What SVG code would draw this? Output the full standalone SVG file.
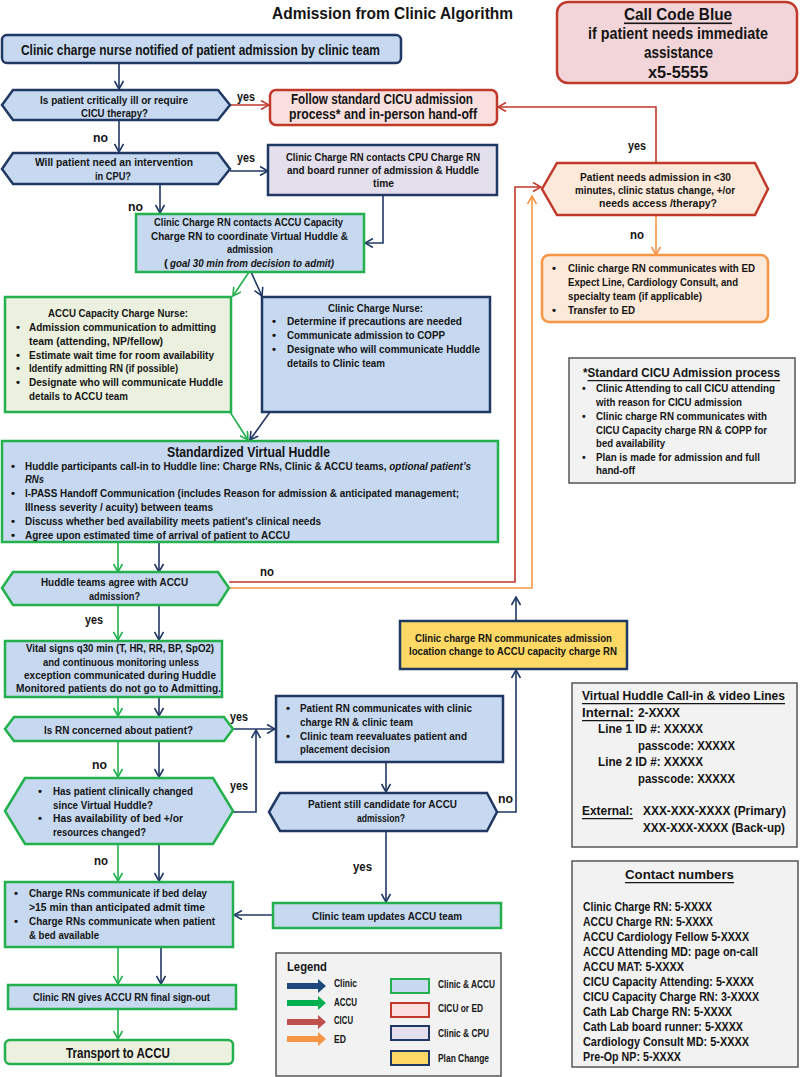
<svg xmlns="http://www.w3.org/2000/svg" width="800" height="1077" viewBox="0 0 800 1077">
<style>
text{font-family:"Liberation Sans",Arial,sans-serif;font-weight:bold;dominant-baseline:central;fill:#141414}
.f10{font-size:10.5px}
.f11{font-size:11.5px}
.f12{font-size:12.5px}
.f14{font-size:14px}
.f15{font-size:15px}
.f16{font-size:16px}
.u{text-decoration:underline}
.i{font-style:italic}
.bl{fill:#c6d9f1;stroke:#203864;stroke-width:2.5}
.gb{fill:#c6d9f1;stroke:#22b14c;stroke-width:2.5}
.gg{fill:#ebf1de;stroke:#22b14c;stroke-width:2.5}
.rd{fill:#f9e0de;stroke:#c0392b;stroke-width:2.5}
.pc{fill:#fde9d9;stroke:#c0392b;stroke-width:2.5}
.or{fill:#fde9d9;stroke:#f79646;stroke-width:2.5}
.lv{fill:#e4dfec;stroke:#203864;stroke-width:2.5}
.yl{fill:#ffd966;stroke:#203864;stroke-width:2.5}
.gr{fill:#f2f2f2;stroke:#555;stroke-width:1.5}
.cb{fill:#f2d5d8;stroke:#c0392b;stroke-width:2.5}
.cn{fill:none;stroke-width:1.6}
.cN{stroke:#203864;marker-end:url(#aN)}
.cG{stroke:#22b14c;marker-end:url(#aG)}
.cR{stroke:#c0392b;marker-end:url(#aR)}
.cO{stroke:#f79646;marker-end:url(#aO)}
</style>
<defs>
<marker id="aN" viewBox="0 0 10 10" refX="9" refY="5" markerWidth="10" markerHeight="10" markerUnits="userSpaceOnUse" orient="auto"><path d="M1,0.5 L9,5 L1,9.5" fill="none" stroke="#203864" stroke-width="1.6"/></marker>
<marker id="aG" viewBox="0 0 10 10" refX="9" refY="5" markerWidth="10" markerHeight="10" markerUnits="userSpaceOnUse" orient="auto"><path d="M1,0.5 L9,5 L1,9.5" fill="none" stroke="#22b14c" stroke-width="1.6"/></marker>
<marker id="aR" viewBox="0 0 10 10" refX="9" refY="5" markerWidth="10" markerHeight="10" markerUnits="userSpaceOnUse" orient="auto"><path d="M1,0.5 L9,5 L1,9.5" fill="none" stroke="#c0392b" stroke-width="1.6"/></marker>
<marker id="aO" viewBox="0 0 10 10" refX="9" refY="5" markerWidth="10" markerHeight="10" markerUnits="userSpaceOnUse" orient="auto"><path d="M1,0.5 L9,5 L1,9.5" fill="none" stroke="#f79646" stroke-width="1.6"/></marker>
</defs>
<rect width="800" height="1077" fill="#ffffff"/>

<text id="title" x="272" y="13" class="f16" style="font-size:17px" textLength="241" lengthAdjust="spacingAndGlyphs">Admission from Clinic Algorithm</text>

<g id="connectors">
<path class="cn cN" d="M119,63 L119,89"/>
<path class="cn cN" d="M119,120 L119,152"/>
<path class="cn cN" d="M230,171 L268,171"/>
<path class="cn cN" d="M160,184 L160,213"/>
<path class="cn cN" d="M383,195 L383,243 L365,243"/>
<path class="cn cN" d="M251,272 L262,296"/>
<path class="cn cN" d="M270,412 L250,440"/>
<path class="cn cN" d="M159,542 L159,572"/>
<path class="cn cN" d="M159,605 L159,640"/>
<path class="cn cN" d="M159,697 L159,716"/>
<path class="cn cN" d="M233,729 L275,729"/>
<path class="cn cN" d="M233,812 L256,812 L256,730"/>
<path class="cn cN" d="M159,741 L159,777"/>
<path class="cn cN" d="M386,762 L386,792"/>
<path class="cn cN" d="M497,812 L516,812 L516,670"/>
<path class="cn cN" d="M516,621 L516,597"/>
<path class="cn cN" d="M386,831 L386,902"/>
<path class="cn cN" d="M273,915 L234,915"/>
<path class="cn cN" d="M159,844 L159,881"/>
<path class="cn cN" d="M161,948 L161,984"/>
<path class="cn cG" d="M249,272 L233,296"/>
<path class="cn cG" d="M230,412 L248,440"/>
<path class="cn cG" d="M118,542 L118,572"/>
<path class="cn cG" d="M118,605 L118,640"/>
<path class="cn cG" d="M118,697 L118,716"/>
<path class="cn cG" d="M118,741 L118,777"/>
<path class="cn cG" d="M118,844 L118,881"/>
<path class="cn cG" d="M118,948 L118,984"/>
<path class="cn cG" d="M118,1009 L118,1039"/>
<path class="cn cR" d="M230,105 L269,105"/>
<path class="cn cR" d="M656,163 L656,107 L498,107"/>
<path class="cn cR" d="M229,582 L515,582 L515,187 L541,187"/>
<path class="cn cO" d="M656,215 L656,255"/>
<path class="cn cO" d="M229,588 L532,588 L532,196"/>
<text x="237" y="97" class="f12" textLength="18" lengthAdjust="spacingAndGlyphs">yes</text>
<text x="93" y="138" class="f12" textLength="15" lengthAdjust="spacingAndGlyphs">no</text>
<text x="237" y="158" class="f12" textLength="18" lengthAdjust="spacingAndGlyphs">yes</text>
<text x="128" y="207" class="f12" textLength="15" lengthAdjust="spacingAndGlyphs">no</text>
<text x="628" y="146" class="f12" textLength="18" lengthAdjust="spacingAndGlyphs">yes</text>
<text x="630" y="235" class="f12" textLength="14" lengthAdjust="spacingAndGlyphs">no</text>
<text x="260" y="572" class="f12" textLength="14" lengthAdjust="spacingAndGlyphs">no</text>
<text x="85" y="620" class="f12" textLength="18" lengthAdjust="spacingAndGlyphs">yes</text>
<text x="230" y="717" class="f12" textLength="18" lengthAdjust="spacingAndGlyphs">yes</text>
<text x="92" y="765" class="f12" textLength="15" lengthAdjust="spacingAndGlyphs">no</text>
<text x="230" y="786" class="f12" textLength="18" lengthAdjust="spacingAndGlyphs">yes</text>
<text x="498" y="799" class="f12" textLength="15" lengthAdjust="spacingAndGlyphs">no</text>
<text x="94" y="861" class="f12" textLength="14" lengthAdjust="spacingAndGlyphs">no</text>
<text x="353" y="867" class="f12" textLength="19" lengthAdjust="spacingAndGlyphs">yes</text>
</g>

<g id="code-blue">
<rect x="557" y="2" width="240" height="81" rx="11" class="cb"/>
<text x="624" y="14" class="f16 u" textLength="108" lengthAdjust="spacingAndGlyphs">Call Code Blue</text>
<text x="588" y="33" class="f16" textLength="180" lengthAdjust="spacingAndGlyphs">if patient needs immediate</text>
<text x="644" y="52" class="f16" textLength="69" lengthAdjust="spacingAndGlyphs">assistance</text>
<text x="648" y="72" class="f16" textLength="60" lengthAdjust="spacingAndGlyphs">x5-5555</text>
</g>

<g id="n-notified">
<rect x="2" y="35" width="399" height="28" rx="5" class="bl"/>
<text x="21" y="50" class="f14" textLength="359" lengthAdjust="spacingAndGlyphs">Clinic charge nurse notified of patient admission by clinic team</text>
</g>

<g id="d-critical">
<polygon points="2,105 13,90 218,90 230,105 218,120 13,120" class="bl"/>
<text x="40" y="100" class="f11" textLength="148" lengthAdjust="spacingAndGlyphs">Is patient critically ill or require</text>
<text x="81" y="113" class="f11" textLength="67" lengthAdjust="spacingAndGlyphs">CICU therapy?</text>
</g>

<g id="n-cicu">
<rect x="270" y="90" width="227" height="35" rx="6" class="rd"/>
<text x="291" y="99" class="f14" textLength="182" lengthAdjust="spacingAndGlyphs">Follow standard CICU admission</text>
<text x="289" y="114" class="f14" textLength="188" lengthAdjust="spacingAndGlyphs">process* and in-person hand-off</text>
</g>

<g id="d-cpu">
<polygon points="2,169 13,153 218,153 230,169 218,184 13,184" class="bl"/>
<text x="35" y="162" class="f11" textLength="158" lengthAdjust="spacingAndGlyphs">Will patient need an intervention</text>
<text x="95" y="176" class="f11" textLength="36" lengthAdjust="spacingAndGlyphs">in CPU?</text>
</g>

<g id="n-cpu">
<rect x="268" y="145" width="229" height="50" class="lv"/>
<text x="286" y="157" class="f11" textLength="194" lengthAdjust="spacingAndGlyphs">Clinic Charge RN contacts CPU Charge RN</text>
<text x="287" y="170" class="f11" textLength="192" lengthAdjust="spacingAndGlyphs">and board runner of admission &amp; Huddle</text>
<text x="373" y="183" class="f11" textLength="21" lengthAdjust="spacingAndGlyphs">time</text>
</g>

<g id="n-contact-accu">
<rect x="136" y="214" width="228" height="58" class="gb"/>
<text x="154" y="222" class="f11" textLength="189" lengthAdjust="spacingAndGlyphs">Clinic Charge RN contacts ACCU Capacity</text>
<text x="151" y="236" class="f11" textLength="197" lengthAdjust="spacingAndGlyphs">Charge RN to coordinate Virtual Huddle &amp;</text>
<text x="227" y="249" class="f11" textLength="46" lengthAdjust="spacingAndGlyphs">admission</text>
<text x="164" y="263" class="f11">(</text>
<text x="170" y="263" class="f11 i" textLength="164" lengthAdjust="spacingAndGlyphs">goal 30 min from decision to admit)</text>
</g>

<g id="n-accu-nurse">
<rect x="5" y="297" width="226" height="115" class="gg"/>
<text x="48" y="313" class="f11" textLength="140" lengthAdjust="spacingAndGlyphs">ACCU Capacity Charge Nurse:</text>
<text x="16" y="327" class="f11">•</text>
<text x="29" y="327" class="f11" textLength="187" lengthAdjust="spacingAndGlyphs">Admission communication to admitting</text>
<text x="29" y="341" class="f11" textLength="134" lengthAdjust="spacingAndGlyphs">team (attending, NP/fellow)</text>
<text x="16" y="355" class="f11">•</text>
<text x="29" y="355" class="f11" textLength="185" lengthAdjust="spacingAndGlyphs">Estimate wait time for room availability</text>
<text x="16" y="368" class="f11">•</text>
<text x="29" y="368" class="f11" textLength="149" lengthAdjust="spacingAndGlyphs">Identify admitting RN (if possible)</text>
<text x="16" y="382" class="f11">•</text>
<text x="29" y="382" class="f11" textLength="194" lengthAdjust="spacingAndGlyphs">Designate who will communicate Huddle</text>
<text x="29" y="396" class="f11" textLength="99" lengthAdjust="spacingAndGlyphs">details to ACCU team</text>
</g>

<g id="n-clinic-nurse">
<rect x="262" y="297" width="228" height="115" class="bl"/>
<text x="328" y="308" class="f11" textLength="95" lengthAdjust="spacingAndGlyphs">Clinic Charge Nurse:</text>
<text x="272" y="321" class="f11">•</text>
<text x="287" y="321" class="f11" textLength="175" lengthAdjust="spacingAndGlyphs">Determine if precautions are needed</text>
<text x="272" y="335" class="f11">•</text>
<text x="287" y="335" class="f11" textLength="158" lengthAdjust="spacingAndGlyphs">Communicate admission to COPP</text>
<text x="272" y="349" class="f11">•</text>
<text x="287" y="349" class="f11" textLength="193" lengthAdjust="spacingAndGlyphs">Designate who will communicate Huddle</text>
<text x="287" y="363" class="f11" textLength="98" lengthAdjust="spacingAndGlyphs">details to Clinic team</text>
</g>

<g id="n-huddle">
<rect x="2" y="441" width="496" height="101" class="gb"/>
<text x="167" y="451" class="f15" textLength="163" lengthAdjust="spacingAndGlyphs">Standardized Virtual Huddle</text>
<text x="11" y="466" class="f11">•</text>
<text x="25" y="466" class="f11" textLength="446" lengthAdjust="spacingAndGlyphs">Huddle participants call-in to Huddle line: Charge RNs, Clinic &amp; ACCU teams, <tspan class="i">optional patient’s</tspan></text>
<text x="25" y="479" class="f11 i" textLength="19" lengthAdjust="spacingAndGlyphs">RNs</text>
<text x="11" y="493" class="f11">•</text>
<text x="25" y="493" class="f11" textLength="434" lengthAdjust="spacingAndGlyphs">I-PASS Handoff Communication (includes Reason for admission &amp; anticipated management;</text>
<text x="25" y="507" class="f11" textLength="188" lengthAdjust="spacingAndGlyphs">Illness severity / acuity) between teams</text>
<text x="11" y="521" class="f11">•</text>
<text x="25" y="521" class="f11" textLength="296" lengthAdjust="spacingAndGlyphs">Discuss whether bed availability meets patient’s clinical needs</text>
<text x="11" y="535" class="f11">•</text>
<text x="25" y="535" class="f11" textLength="265" lengthAdjust="spacingAndGlyphs">Agree upon estimated time of arrival of patient to ACCU</text>
</g>

<g id="d-agree">
<polygon points="2,588 13,572 218,572 229,588 218,605 13,605" class="gb"/>
<text x="41" y="582" class="f11" textLength="147" lengthAdjust="spacingAndGlyphs">Huddle teams agree with ACCU</text>
<text x="89" y="596" class="f11" textLength="51" lengthAdjust="spacingAndGlyphs">admission?</text>
</g>

<g id="n-vitals">
<rect x="5" y="641" width="217" height="56" class="gb"/>
<text x="26" y="648" class="f11" textLength="188" lengthAdjust="spacingAndGlyphs">Vital signs q30 min (T, HR, RR, BP, SpO2)</text>
<text x="43" y="662" class="f11" textLength="156" lengthAdjust="spacingAndGlyphs">and continuous monitoring unless</text>
<text x="24" y="675" class="f11" textLength="192" lengthAdjust="spacingAndGlyphs">exception communicated during Huddle</text>
<text x="16" y="688" class="f11" textLength="205" lengthAdjust="spacingAndGlyphs">Monitored patients do not go to Admitting.</text>
</g>

<g id="d-concerned">
<polygon points="5,729 14,717 224,717 233,729 224,741 14,741" class="gb"/>
<text x="44" y="730" class="f11" textLength="149" lengthAdjust="spacingAndGlyphs">Is RN concerned about patient?</text>
</g>

<g id="d-changed">
<polygon points="5,811 25,778 213,778 233,811 213,844 25,844" class="gb"/>
<text x="38" y="791" class="f11">•</text>
<text x="53" y="791" class="f11" textLength="140" lengthAdjust="spacingAndGlyphs">Has patient clinically changed</text>
<text x="53" y="805" class="f11" textLength="100" lengthAdjust="spacingAndGlyphs">since Virtual Huddle?</text>
<text x="38" y="818" class="f11">•</text>
<text x="53" y="818" class="f11" textLength="130" lengthAdjust="spacingAndGlyphs">Has availability of bed +/or</text>
<text x="53" y="832" class="f11" textLength="93" lengthAdjust="spacingAndGlyphs">resources changed?</text>
</g>

<g id="n-reevaluate">
<rect x="276" y="696" width="227" height="66" class="bl"/>
<text x="286" y="708" class="f11">•</text>
<text x="300" y="708" class="f11" textLength="172" lengthAdjust="spacingAndGlyphs">Patient RN communicates with clinic</text>
<text x="300" y="722" class="f11" textLength="113" lengthAdjust="spacingAndGlyphs">charge RN &amp; clinic team</text>
<text x="286" y="736" class="f11">•</text>
<text x="300" y="736" class="f11" textLength="167" lengthAdjust="spacingAndGlyphs">Clinic team reevaluates patient and</text>
<text x="300" y="749" class="f11" textLength="90" lengthAdjust="spacingAndGlyphs">placement decision</text>
</g>

<g id="d-candidate">
<polygon points="269,812 280,793 487,793 497,812 487,831 280,831" class="bl"/>
<text x="308" y="804" class="f11" textLength="149" lengthAdjust="spacingAndGlyphs">Patient still candidate for ACCU</text>
<text x="357" y="818" class="f11" textLength="48" lengthAdjust="spacingAndGlyphs">admission?</text>
</g>

<g id="n-plan-change">
<rect x="400" y="621" width="227" height="48" class="yl"/>
<text x="415" y="638" class="f11" textLength="197" lengthAdjust="spacingAndGlyphs">Clinic charge RN communicates admission</text>
<text x="409" y="651" class="f11" textLength="208" lengthAdjust="spacingAndGlyphs">location change to ACCU capacity charge RN</text>
</g>

<g id="n-updates">
<rect x="273" y="903" width="228" height="25" class="gb"/>
<text x="312" y="916" class="f11" textLength="150" lengthAdjust="spacingAndGlyphs">Clinic team updates ACCU team</text>
</g>

<g id="n-bed-delay">
<rect x="5" y="882" width="228" height="65" class="gb"/>
<text x="14" y="893" class="f11">•</text>
<text x="29" y="893" class="f11" textLength="178" lengthAdjust="spacingAndGlyphs">Charge RNs communicate if bed delay</text>
<text x="29" y="907" class="f11" textLength="176" lengthAdjust="spacingAndGlyphs">&gt;15 min than anticipated admit time</text>
<text x="14" y="921" class="f11">•</text>
<text x="29" y="921" class="f11" textLength="186" lengthAdjust="spacingAndGlyphs">Charge RNs communicate when patient</text>
<text x="29" y="935" class="f11" textLength="70" lengthAdjust="spacingAndGlyphs">&amp; bed available</text>
</g>

<g id="n-signout">
<rect x="8" y="985" width="228" height="24" class="gb"/>
<text x="33" y="997" class="f11" textLength="177" lengthAdjust="spacingAndGlyphs">Clinic RN gives ACCU RN final sign-out</text>
</g>

<g id="n-transport">
<rect x="5" y="1040" width="228" height="24" rx="5" class="gg"/>
<text x="66" y="1052" class="f15" textLength="104" lengthAdjust="spacingAndGlyphs">Transport to ACCU</text>
</g>

<g id="d-urgent">
<polygon points="542,189 557,163 755,163 768,189 755,215 557,215" class="pc"/>
<text x="580" y="177" class="f11" textLength="151" lengthAdjust="spacingAndGlyphs">Patient needs admission in &lt;30</text>
<text x="575" y="190" class="f11" textLength="160" lengthAdjust="spacingAndGlyphs">minutes, clinic status change, +/or</text>
<text x="599" y="203" class="f11" textLength="118" lengthAdjust="spacingAndGlyphs">needs access /therapy?</text>
</g>

<g id="n-ed">
<rect x="542" y="255" width="226" height="67" rx="7" class="or"/>
<text x="552" y="268" class="f11">•</text>
<text x="568" y="268" class="f11" textLength="187" lengthAdjust="spacingAndGlyphs">Clinic charge RN communicates with ED</text>
<text x="568" y="282" class="f11" textLength="170" lengthAdjust="spacingAndGlyphs">Expect Line, Cardiology Consult, and</text>
<text x="568" y="296" class="f11" textLength="134" lengthAdjust="spacingAndGlyphs">specialty team (if applicable)</text>
<text x="552" y="310" class="f11">•</text>
<text x="568" y="310" class="f11" textLength="67" lengthAdjust="spacingAndGlyphs">Transfer to ED</text>
</g>

<g id="n-standard-cicu">
<rect x="569" y="358" width="226" height="125" class="gr"/>
<text x="583" y="373" class="f12" textLength="197" lengthAdjust="spacingAndGlyphs">*<tspan class="u">Standard CICU Admission process</tspan></text>
<text x="582" y="388" class="f10">•</text>
<text x="596" y="388" class="f10" textLength="179" lengthAdjust="spacingAndGlyphs">Clinic Attending to call CICU attending</text>
<text x="596" y="402" class="f10" textLength="146" lengthAdjust="spacingAndGlyphs">with reason for CICU admission</text>
<text x="582" y="416" class="f10">•</text>
<text x="596" y="416" class="f10" textLength="171" lengthAdjust="spacingAndGlyphs">Clinic charge RN communicates with</text>
<text x="596" y="430" class="f10" textLength="171" lengthAdjust="spacingAndGlyphs">CICU Capacity charge RN &amp; COPP for</text>
<text x="596" y="443" class="f10" textLength="69" lengthAdjust="spacingAndGlyphs">bed availability</text>
<text x="582" y="457" class="f10">•</text>
<text x="596" y="457" class="f10" textLength="164" lengthAdjust="spacingAndGlyphs">Plan is made for admission and full</text>
<text x="596" y="470" class="f10" textLength="39" lengthAdjust="spacingAndGlyphs">hand-off</text>
</g>

<g id="n-huddle-lines">
<rect x="572" y="683" width="225" height="164" class="gr"/>
<text x="582" y="696" class="f12 u" textLength="203" lengthAdjust="spacingAndGlyphs">Virtual Huddle Call-in &amp; video Lines</text>
<text x="582" y="713" class="f12 u" textLength="52" lengthAdjust="spacingAndGlyphs">Internal:</text>
<text x="638" y="713" class="f12" textLength="42" lengthAdjust="spacingAndGlyphs">2-XXXX</text>
<text x="598" y="729" class="f12" textLength="105" lengthAdjust="spacingAndGlyphs">Line 1 ID #: XXXXX</text>
<text x="638" y="746" class="f12" textLength="97" lengthAdjust="spacingAndGlyphs">passcode: XXXXX</text>
<text x="598" y="762" class="f12" textLength="105" lengthAdjust="spacingAndGlyphs">Line 2 ID #: XXXXX</text>
<text x="638" y="779" class="f12" textLength="97" lengthAdjust="spacingAndGlyphs">passcode: XXXXX</text>
<text x="582" y="811" class="f12 u" textLength="51" lengthAdjust="spacingAndGlyphs">External:</text>
<text x="643" y="811" class="f12" textLength="143" lengthAdjust="spacingAndGlyphs">XXX-XXX-XXXX (Primary)</text>
<text x="643" y="828" class="f12" textLength="142" lengthAdjust="spacingAndGlyphs">XXX-XXX-XXXX (Back-up)</text>
</g>

<g id="n-contacts">
<rect x="572" y="861" width="226" height="206" class="gr"/>
<text x="625" y="875" class="f12 u" textLength="109" lengthAdjust="spacingAndGlyphs">Contact numbers</text>
<text x="583" y="907" class="f12" textLength="129" lengthAdjust="spacingAndGlyphs">Clinic Charge RN: 5-XXXX</text>
<text x="583" y="922" class="f12" textLength="130" lengthAdjust="spacingAndGlyphs">ACCU Charge RN: 5-XXXX</text>
<text x="583" y="937" class="f12" textLength="166" lengthAdjust="spacingAndGlyphs">ACCU Cardiology Fellow 5-XXXX</text>
<text x="583" y="952" class="f12" textLength="175" lengthAdjust="spacingAndGlyphs">ACCU Attending MD: page on-call</text>
<text x="583" y="967" class="f12" textLength="101" lengthAdjust="spacingAndGlyphs">ACCU MAT: 5-XXXX</text>
<text x="583" y="982" class="f12" textLength="171" lengthAdjust="spacingAndGlyphs">CICU Capacity Attending: 5-XXXX</text>
<text x="583" y="997" class="f12" textLength="176" lengthAdjust="spacingAndGlyphs">CICU Capacity Charge RN: 3-XXXX</text>
<text x="583" y="1012" class="f12" textLength="149" lengthAdjust="spacingAndGlyphs">Cath Lab Charge RN: 5-XXXX</text>
<text x="583" y="1027" class="f12" textLength="160" lengthAdjust="spacingAndGlyphs">Cath Lab board runner: 5-XXXX</text>
<text x="583" y="1042" class="f12" textLength="166" lengthAdjust="spacingAndGlyphs">Cardiology Consult MD: 5-XXXX</text>
<text x="583" y="1057" class="f12" textLength="98" lengthAdjust="spacingAndGlyphs">Pre-Op NP: 5-XXXX</text>
</g>

<g id="legend">
<rect x="276" y="953" width="225" height="123" class="gr"/>
<text x="287" y="966" class="f12" style="font-size:13px" textLength="40" lengthAdjust="spacingAndGlyphs">Legend</text>
<polygon points="287,983 318,983 318,979 326,986 318,993 318,989 287,989" fill="#1f497d"/>
<polygon points="287,1000 318,1000 318,996 326,1003 318,1010 318,1006 287,1006" fill="#00b050"/>
<polygon points="287,1019 318,1019 318,1015 326,1022 318,1029 318,1025 287,1025" fill="#c0504d"/>
<polygon points="287,1036 318,1036 318,1032 326,1039 318,1046 318,1042 287,1042" fill="#f79646"/>
<text x="334" y="983" class="f10" textLength="23" lengthAdjust="spacingAndGlyphs">Clinic</text>
<text x="334" y="1002" class="f10" textLength="23" lengthAdjust="spacingAndGlyphs">ACCU</text>
<text x="334" y="1020" class="f10" textLength="19" lengthAdjust="spacingAndGlyphs">CICU</text>
<text x="334" y="1039" class="f10" textLength="12" lengthAdjust="spacingAndGlyphs">ED</text>
<rect x="391" y="979" width="38" height="14" class="gb" style="stroke-width:2"/>
<rect x="391" y="1003" width="38" height="14" class="rd" style="stroke-width:2"/>
<rect x="391" y="1026" width="38" height="14" class="lv" style="stroke-width:2"/>
<rect x="391" y="1051" width="38" height="14" class="yl" style="stroke-width:2"/>
<text x="438" y="984" class="f10" textLength="57" lengthAdjust="spacingAndGlyphs">Clinic &amp; ACCU</text>
<text x="438" y="1008" class="f10" textLength="45" lengthAdjust="spacingAndGlyphs">CICU or ED</text>
<text x="438" y="1033" class="f10" textLength="51" lengthAdjust="spacingAndGlyphs">Clinic &amp; CPU</text>
<text x="438" y="1058" class="f10" textLength="51" lengthAdjust="spacingAndGlyphs">Plan Change</text>
</g>
</svg>
